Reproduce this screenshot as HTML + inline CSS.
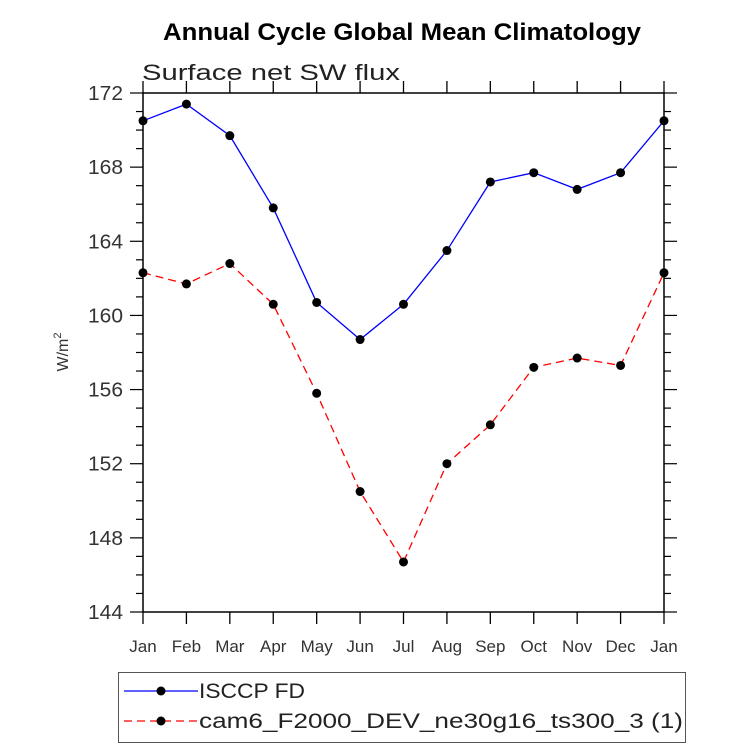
<!DOCTYPE html>
<html><head><meta charset="utf-8"><style>
body{margin:0;background:#fff;}
svg text{font-family:"Liberation Sans",sans-serif;}
</style></head><body>
<svg width="733" height="748" xmlns="http://www.w3.org/2000/svg" id="chart">
<text x="402" y="40" text-anchor="middle" font-size="24" font-weight="bold" textLength="478" lengthAdjust="spacingAndGlyphs">Annual Cycle Global Mean Climatology</text>
<text x="142" y="80" font-size="22" fill="#222" textLength="258" lengthAdjust="spacingAndGlyphs">Surface net SW flux</text>
<g id="axes"></g>
<g id="series"></g>
<text transform="translate(68,352) rotate(-90)" text-anchor="middle" font-size="16" fill="#333">W/m<tspan dy="-7" font-size="11">2</tspan></text>
<g>
<rect x="118.5" y="672.5" width="567" height="70" fill="none" stroke="#555"/>
<g>
<line x1="124" y1="691" x2="198" y2="691" stroke="#00f" stroke-width="1.3"/>
<circle cx="161" cy="691" r="4.5"/>
<text x="199" y="698" font-size="21" fill="#222" textLength="106" lengthAdjust="spacingAndGlyphs">ISCCP FD</text></g>
<g>
<line x1="124" y1="721" x2="198" y2="721" stroke="#f00" stroke-width="1.3" stroke-dasharray="8,5"/>
<circle cx="161" cy="721" r="4.5"/>
<text x="199" y="728" font-size="21" fill="#222" textLength="484" lengthAdjust="spacingAndGlyphs">cam6_F2000_DEV_ne30g16_ts300_3 (1)</text></g>
</g>
</svg>
<script>
const months=["Jan","Feb","Mar","Apr","May","Jun","Jul","Aug","Sep","Oct","Nov","Dec","Jan"];
const isccp=[170.5,171.4,169.7,165.8,160.7,158.7,160.6,163.5,167.2,167.7,166.8,167.7,170.5];
const cam6=[162.3,161.7,162.8,160.6,155.8,150.5,146.7,152.0,154.1,157.2,157.7,157.3,162.3];
const yTicks=[144,148,152,156,160,164,168,172];
const X0=143,X1=664,Y0=612,Y1=93,YMIN=144,YMAX=172;
const ns="http://www.w3.org/2000/svg";
function xs(i){return X0+(X1-X0)*i/(months.length-1);}
function ys(v){return Y0-(v-YMIN)/(YMAX-YMIN)*(Y0-Y1);}
function mk(t,a,p){const e=document.createElementNS(ns,t);for(const k in a)e.setAttribute(k,a[k]);p.appendChild(e);return e;}
const ax=document.getElementById('axes');
const fr=mk('rect',{x:X0,y:Y1,width:X1-X0,height:Y0-Y1,fill:'none',stroke:'#000','stroke-width':1.5},ax);


months.forEach((m,i)=>{
 const x=xs(i);
 mk('line',{x1:x,y1:Y0,x2:x,y2:Y0+12,stroke:'#000','stroke-width':1.3},ax);
 mk('line',{x1:x,y1:Y1,x2:x,y2:Y1-12,stroke:'#000','stroke-width':1.3},ax);
 const t=mk('text',{x:x,y:652,'text-anchor':'middle','font-size':17,fill:'#333'},ax);
 t.textContent=m;
 
 
});
for(let v=YMIN;v<=YMAX;v++){
 const y=ys(v),maj=(v-YMIN)%4===0,L=maj?13:7;
 mk('line',{x1:X0-L,y1:y,x2:X0,y2:y,stroke:'#000','stroke-width':1.2},ax);
 mk('line',{x1:X1,y1:y,x2:X1+L,y2:y,stroke:'#000','stroke-width':1.2},ax);
}
yTicks.forEach(v=>{
 const t=mk('text',{x:123,y:ys(v)+7,'text-anchor':'end','font-size':20,fill:'#333',textLength:35,lengthAdjust:'spacingAndGlyphs'},ax);
 t.textContent=v;
 
 
});
const sg=document.getElementById('series');
function draw(vals,color,dash,name){
 const g=mk('g',{},sg);
 
 
 const pl=mk('polyline',{points:vals.map((v,i)=>xs(i)+','+ys(v)).join(' '),fill:'none',stroke:color,'stroke-width':1.3},g);
 if(dash)pl.setAttribute('stroke-dasharray',dash);
 vals.forEach((v,i)=>{
  const c=mk('circle',{cx:xs(i),cy:ys(v),r:4.5,fill:'#000'},g);
  
  
 });
}
draw(isccp,'#00f',null,'isccp-series');
draw(cam6,'#f00','8,5','cam6-series');
</script>
</body></html>
